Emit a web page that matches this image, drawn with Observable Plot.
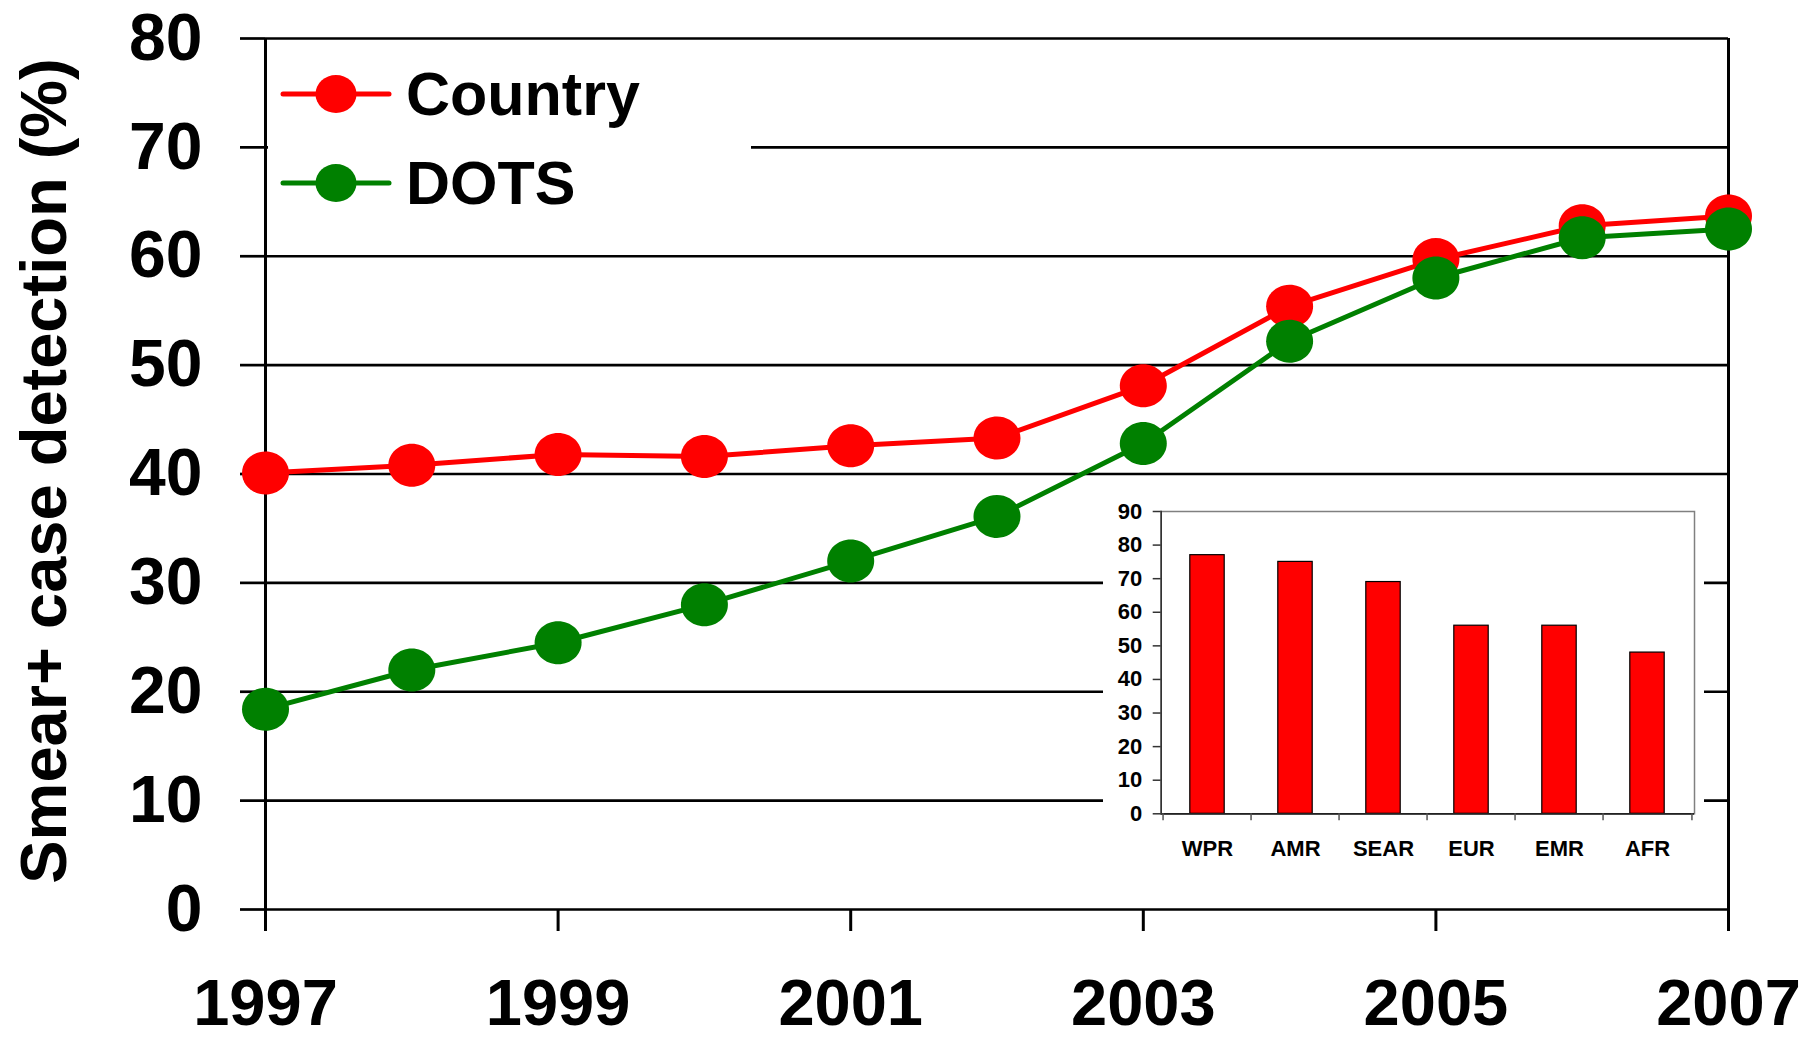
<!DOCTYPE html>
<html><head><meta charset="utf-8">
<script src="https://cdn.jsdelivr.net/npm/d3@7"></script>
<script src="https://cdn.jsdelivr.net/npm/@observablehq/plot@0.6"></script>
<style>
html,body{margin:0;padding:0;background:#fff;}
#wrap{position:relative;width:1811px;height:1037px;font-family:"Liberation Sans",Arial,sans-serif;}
#main{position:absolute;left:0;top:0;}
#legend{position:absolute;left:268px;top:48px;width:483px;height:176px;background:#fff;}
#inset{position:absolute;left:1103px;top:490px;width:601px;height:390px;background:#fff;}
</style></head><body>
<div id="wrap"><div id="main"></div><div id="legend"></div><div id="inset"></div></div>
<script>
// ---- data ----
const years = [1997, 1998, 1999, 2000, 2001, 2002, 2003, 2004, 2005, 2006, 2007];
const countryValues = [40.1, 40.8, 41.8, 41.6, 42.6, 43.3, 48.1, 55.4, 59.7, 62.8, 63.7];
const dotsValues = [18.4, 22.0, 24.5, 28.0, 32.0, 36.1, 42.8, 52.2, 58.0, 61.7, 62.5];
const seriesNames = ["Country", "DOTS"];
const seriesColors = ["#ff0000", "#008000"];
const yTicks = [0, 10, 20, 30, 40, 50, 60, 70, 80];
const xTicks = [1997, 1999, 2001, 2003, 2005, 2007];
const yTitle = "Smear+ case detection (%)";
const regions = ["WPR", "AMR", "SEAR", "EUR", "EMR", "AFR"];
const regionValues = [77, 75, 69, 56, 56, 48];
const insetTicks = [0, 10, 20, 30, 40, 50, 60, 70, 80, 90];

const font = '"Liberation Sans", Arial, Helvetica, sans-serif';

// elliptical marker (slightly wider than tall)
const ellipse = {
  draw(ctx, size) {
    const rx = Math.sqrt(size / Math.PI), ry = rx * 0.915;
    const kx = rx * 0.5523, ky = ry * 0.5523;
    ctx.moveTo(rx, 0);
    ctx.bezierCurveTo(rx, ky, kx, ry, 0, ry);
    ctx.bezierCurveTo(-kx, ry, -rx, ky, -rx, 0);
    ctx.bezierCurveTo(-rx, -ky, -kx, -ry, 0, -ry);
    ctx.bezierCurveTo(kx, -ry, rx, -ky, rx, 0);
    ctx.closePath();
  }
};

const seriesValues = [countryValues, dotsValues];
const rows = seriesValues.map((vals, k) => years.map((yr, i) => ({year: yr, value: vals[i], name: seriesNames[k]})));

const main = Plot.plot({
  width: 1811, height: 1037,
  marginLeft: 265, marginRight: 83, marginTop: 38, marginBottom: 128,
  style: {fontFamily: font, color: "#000", background: "transparent", overflow: "visible"},
  x: {domain: [years[0], years[years.length - 1]]},
  y: {domain: [0, 80]},
  marks: [
    Plot.ruleY(yTicks, {stroke: "#000", strokeWidth: 2.7}),
    Plot.ruleX([years[0], years[years.length - 1]], {stroke: "#000", strokeWidth: 3}),
    Plot.axisY({ticks: yTicks, tickSize: 25, tickPadding: 38, fontSize: 66, fontWeight: "bold", label: null, strokeWidth: 2.7}),
    Plot.axisX({ticks: xTicks, tickSize: 22, tickPadding: 47, fontSize: 65, fontWeight: "bold", label: null, strokeWidth: 3, tickFormat: d => String(d)}),
    ...rows.flatMap((r, k) => [
      Plot.lineY(r, {x: "year", y: "value", stroke: seriesColors[k], strokeWidth: 5, strokeLinejoin: "round"}),
      Plot.dot(r, {x: "year", y: "value", fill: seriesColors[k], r: 23.5, symbol: ellipse})
    ]),
    Plot.text([yTitle], {text: d => d, frameAnchor: "left", textAnchor: "middle", dx: -200, dy: -3, rotate: -90, lineAnchor: "bottom", fontSize: 65, fontWeight: "bold", fill: "#000"})
  ]
});
document.getElementById("main").appendChild(main);

// ---- legend ----
const lg = d3.select("#legend").append("svg").attr("width", 483).attr("height", 176)
  .style("font-family", font);
const legendY = [46, 135];
seriesNames.forEach((name, k) => {
  const g = lg.append("g").attr("transform", `translate(0,${legendY[k]})`);
  g.append("line").attr("x1", 15).attr("x2", 121).attr("y1", 0).attr("y2", 0)
    .attr("stroke", seriesColors[k]).attr("stroke-width", 5).attr("stroke-linecap", "round");
  g.append("ellipse").attr("cx", 68).attr("cy", 0).attr("rx", 20.5).attr("ry", 19).attr("fill", seriesColors[k]);
  g.append("text").attr("x", 138).attr("y", 21).attr("font-size", 61).attr("font-weight", "bold")
    .attr("fill", "#000").text(name);
});

// ---- inset bar chart ----
const iw = 601, ih = 390, iml = 57.7, imr = 10;
const bw = (iw - iml - imr) / regions.length;
const regionRows = regions.map((r, i) => ({region: r, value: regionValues[i]}));
const inset = Plot.plot({
  width: iw, height: ih,
  marginLeft: iml, marginRight: imr, marginTop: 21, marginBottom: 66.7,
  style: {fontFamily: font, color: "#000", background: "#fff", overflow: "visible"},
  x: {type: "band", domain: regions, padding: 0},
  y: {domain: [0, 90]},
  marks: [
    Plot.frame({stroke: "#808080", strokeWidth: 1.5}),
    Plot.barY(regionRows, {x: "region", y: "value", fill: "#ff0000", stroke: "#000", strokeWidth: 1.2, insetLeft: 26.8, insetRight: 26.8}),
    Plot.ruleY([0], {stroke: "#222", strokeWidth: 1.8}),
    Plot.frame({anchor: "left", stroke: "#333", strokeWidth: 1.6}),
    Plot.axisY({ticks: insetTicks, tickSize: 8, tickPadding: 11, fontSize: 22, fontWeight: "bold", label: null, stroke: "#333", strokeWidth: 1.5}),
    Plot.axisX({tickSize: 0, tickPadding: 27, fontSize: 22, fontWeight: "bold", label: null}),
    Plot.axisX(regions, {tickSize: 7, fill: "none", dx: -bw / 2, label: null, stroke: "#555", strokeWidth: 1.5}),
    Plot.axisX([regions[regions.length - 1]], {tickSize: 7, fill: "none", dx: bw / 2, label: null, stroke: "#555", strokeWidth: 1.5})
  ]
});
document.getElementById("inset").appendChild(inset);
</script>
</body></html>
